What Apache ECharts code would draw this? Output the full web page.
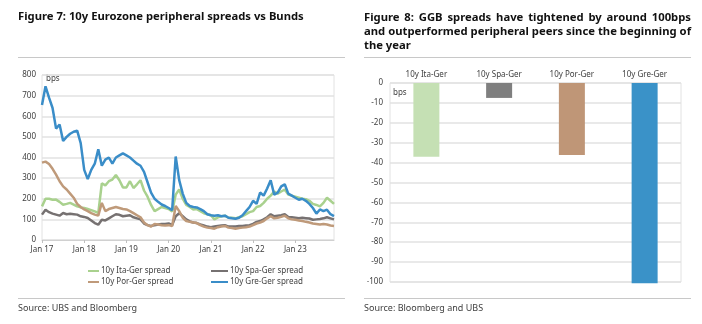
<!DOCTYPE html>
<html><head><meta charset="utf-8">
<script src="https://cdn.jsdelivr.net/npm/echarts/dist/echarts.min.js"></script>
<style>html,body{margin:0;padding:0;background:#fff}#c{width:702px;height:324px}</style>
</head><body><div id="c"></div>
<script>
// ---- Figure 7 data (monthly, Jan 17 .. Dec 23) ----
const monthNames = ['Jan','Feb','Mar','Apr','May','Jun','Jul','Aug','Sep','Oct','Nov','Dec'];
const yearLabels = ['17','18','19','20','21','22','23'];
const months = [];
yearLabels.forEach(y => monthNames.forEach(m => months.push(m + ' ' + y)));

const itaGer = [
163,200,200,195,196,185,171,175,180,172,163,158,
155,150,145,139,131,275,265,285,293,315,290,255,
255,285,252,270,290,240,210,170,140,150,160,155,
150,138,220,245,200,170,160,148,150,140,130,125,
120,100,110,115,118,108,108,105,110,115,125,135,
140,160,165,180,200,215,235,225,235,245,220,215,
210,205,200,198,190,175,170,163,180,205,190,175];
const spaGer = [
123,147,135,128,123,118,131,125,127,125,123,115,
112,107,95,82,74,98,95,105,115,125,122,115,
118,120,110,105,100,80,72,68,72,75,78,78,
80,72,115,130,115,100,90,85,82,75,70,65,
62,65,68,70,72,65,65,66,68,68,70,72,
78,88,92,100,110,125,115,118,120,125,112,110,
108,105,108,106,104,98,100,102,105,110,105,100];
const porGer = [
375,380,368,345,317,285,260,245,225,205,175,160,
148,140,130,123,118,180,140,150,155,160,155,150,
148,140,130,120,110,85,72,65,78,75,72,70,
72,68,165,140,108,92,88,85,82,72,65,60,
58,55,62,65,68,60,58,55,58,60,62,65,
72,80,85,92,105,115,105,108,112,118,105,100,
98,95,92,88,85,80,78,75,78,75,70,68];
const greGer = [
655,745,690,640,540,560,480,500,515,525,530,470,
340,295,340,370,440,360,390,400,370,400,410,420,
410,400,385,370,360,330,280,230,200,185,172,165,
155,145,405,290,225,180,165,160,158,150,140,125,
120,118,120,115,118,108,105,103,108,120,140,160,
190,175,230,215,250,290,220,230,260,270,225,215,
205,195,200,190,175,155,128,148,140,147,125,116];
const lineNames = ['10y Ita-Ger spread','10y Spa-Ger spread','10y Por-Ger spread','10y Gre-Ger spread'];

// ---- Figure 8 data ----
const barCategories = ['10y Ita-Ger','10y Spa-Ger','10y Por-Ger','10y Gre-Ger'];
const barValues = [-37, -7.5, -36.2, -100.6];

// ---- texts ----
const title7 = 'Figure 7: 10y Eurozone peripheral spreads vs Bunds';
const title8 = ['Figure 8: GGB spreads have tightened by around 100bps',
                'and outperformed peripheral peers since the beginning of',
                'the year'];
const source7 = 'Source: UBS and Bloomberg';
const source8 = 'Source: Bloomberg and UBS';

// ---- styles ----
const lineColors = ['#a9d18e','#767171','#bf9a7a','#3a8dc8'];
const barColors = ['#c5e0b4','#7f7f7f','#bf9677','#3a92c8'];
const FONT = 'Noto Sans';
const TXT = '#404040';
const GRID = '#e2e2e2';

// text measuring helpers (layout only)
const ctx = document.createElement('canvas').getContext('2d');
function measure(text, size) { ctx.font = 'bold ' + size + 'px "' + FONT + '"'; return ctx.measureText(text).width; }
function fitSize(text, target) { return 100 * target / measure(text, 100); }
const size7 = fitSize(title7, 286);
const size8 = fitSize(title8[1], 327);
function justified(text, x0, x1, yTop, size) {
  const words = text.split(' ');
  const ws = words.map(w => measure(w, size));
  const total = ws.reduce((a, b) => a + b, 0);
  const gap = (x1 - x0 - total) / (words.length - 1);
  let x = x0; const out = [];
  words.forEach((w, i) => {
    out.push({type: 'text', left: x, top: yTop, style: {text: w, font: 'bold ' + size + 'px "' + FONT + '"', fill: '#111'}});
    x += ws[i] + gap;
  });
  return out;
}

const chart = echarts.init(document.getElementById('c'), null, {renderer:'canvas'});
const lineData = [itaGer, spaGer, porGer, greGer];

const graphics = [
  {type: 'text', left: 18, top: 11, style: {text: title7, font: 'bold ' + size7 + 'px "' + FONT + '"', fill: '#111'}}
].concat(justified(title8[0], 364, 691, 12, size8))
 .concat(justified(title8[1], 364, 691, 26, size8))
 .concat([
  {type: 'text', left: 364, top: 40, style: {text: title8[2], font: 'bold ' + size8 + 'px "' + FONT + '"', fill: '#111'}},
  {type: 'line', shape: {x1: 18, y1: 57.5, x2: 345, y2: 57.5}, style: {stroke: '#c8c8c8', lineWidth: 1}},
  {type: 'line', shape: {x1: 364, y1: 57.5, x2: 691, y2: 57.5}, style: {stroke: '#c8c8c8', lineWidth: 1}},
  {type: 'line', shape: {x1: 18, y1: 298.5, x2: 345, y2: 298.5}, style: {stroke: '#c8c8c8', lineWidth: 1}},
  {type: 'line', shape: {x1: 364, y1: 298.5, x2: 691, y2: 298.5}, style: {stroke: '#c8c8c8', lineWidth: 1}},
  {type: 'text', left: 18, top: 304, style: {text: source7, font: '9px "' + FONT + '"', fill: TXT}},
  {type: 'text', left: 364, top: 304, style: {text: source8, font: '9px "' + FONT + '"', fill: TXT}},
  {type: 'text', left: 46, top: 75, style: {text: 'bps', font: '8px "' + FONT + '"', fill: TXT}},
  {type: 'text', left: 393, top: 89, style: {text: 'bps', font: '8px "' + FONT + '"', fill: TXT}}
]);

const option = {
  animation: false,
  textStyle: {fontFamily: FONT},
  grid: [
    {left: 42, top: 75, width: 292, height: 165, show: true, borderColor: GRID, borderWidth: 1},
    {left: 390, top: 83, width: 291, height: 199, show: true, borderColor: GRID, borderWidth: 1}
  ],
  xAxis: [
    {type: 'category', gridIndex: 0, data: months, boundaryGap: false,
     axisLine: {lineStyle: {color: '#d0d0d0'}},
     axisTick: {show: true, length: 3, lineStyle: {color: '#c0c0c0'}, interval: (i) => i % 12 === 0},
     axisLabel: {color: TXT, fontSize: 8, fontFamily: FONT, margin: 6, interval: (i) => i % 12 === 0},
     splitLine: {show: false}},
    {type: 'category', gridIndex: 1, data: barCategories, position: 'top',
     axisLine: {show: false}, axisTick: {show: false},
     axisLabel: {color: TXT, fontSize: 8, fontFamily: FONT, margin: 4}}
  ],
  yAxis: [
    {type: 'value', gridIndex: 0, min: 0, max: 800, interval: 100,
     axisLine: {show: false}, axisTick: {show: false},
     axisLabel: {color: TXT, fontSize: 8, fontFamily: FONT, margin: 6},
     splitLine: {lineStyle: {color: GRID, width: 1.5}}},
    {type: 'value', gridIndex: 1, min: -100, max: 0, interval: 10,
     axisLine: {show: false}, axisTick: {show: false},
     axisLabel: {color: TXT, fontSize: 8, fontFamily: FONT, margin: 7},
     splitLine: {lineStyle: {color: GRID, width: 1.5}}}
  ],
  legend: [
    {data: [lineNames[0], lineNames[2]], orient: 'vertical', left: 83, top: 262,
     icon: 'rect', itemWidth: 11, itemHeight: 2, itemGap: 3,
     textStyle: {color: TXT, fontSize: 8, fontFamily: FONT, padding: [0,0,0,-3]}},
    {data: [lineNames[1], lineNames[3]], orient: 'vertical', left: 206, top: 262,
     icon: 'rect', itemWidth: 17, itemHeight: 2, itemGap: 3,
     textStyle: {color: TXT, fontSize: 8, fontFamily: FONT, padding: [0,0,0,-3]}}
  ],
  series: lineData.map((d, i) => ({
    type: 'line', name: lineNames[i], xAxisIndex: 0, yAxisIndex: 0, data: d,
    showSymbol: false, symbol: 'none', color: lineColors[i],
    lineStyle: {width: 2.5, color: lineColors[i]}
  })).concat([{
    type: 'bar', name: 'change', xAxisIndex: 1, yAxisIndex: 1, barWidth: 26, clip: false,
    data: barValues.map((v, i) => ({value: v, itemStyle: {color: barColors[i]}}))
  }]),
  graphic: graphics
};
chart.setOption(option);
</script>
</body></html>
